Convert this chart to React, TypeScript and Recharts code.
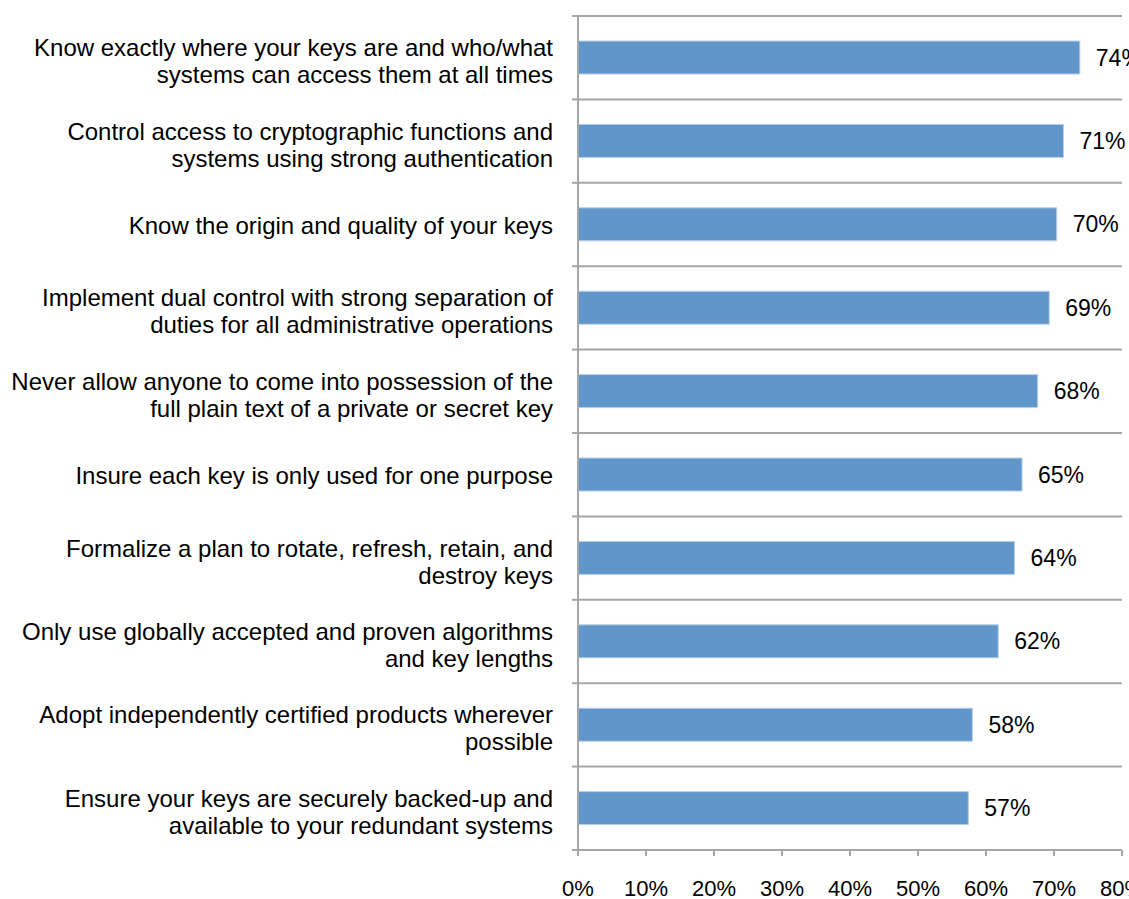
import React from 'react';
import {
  BarChart,
  Bar,
  XAxis,
  YAxis,
  CartesianGrid,
  LabelList,
} from 'recharts';

// practice labels, already broken into lines like the original
const practices: string[] = [
  'Know exactly where your keys are and who/what\nsystems can access them at all times',
  'Control access to cryptographic functions and\nsystems using strong authentication',
  'Know the origin and quality of your keys',
  'Implement dual control with strong separation of\nduties for all administrative operations',
  'Never allow anyone to come into possession of the\nfull plain text of a private or secret key',
  'Insure each key is only used for one purpose',
  'Formalize a plan to rotate, refresh, retain, and\ndestroy keys',
  'Only use globally accepted and proven algorithms\nand key lengths',
  'Adopt independently certified products wherever\npossible',
  'Ensure your keys are securely backed-up and\navailable to your redundant systems',
];

const shares: number[] = [73.8, 71.4, 70.4, 69.3, 67.6, 65.3, 64.2, 61.8, 58.0, 57.4];

const percentTicks: number[] = [0, 10, 20, 30, 40, 50, 60, 70, 80];

const data = practices.map((label, i) => ({ label, value: shares[i] }));

const FONT = '"Liberation Sans", Arial, sans-serif';
const GRAY = '#a6a6a6';
const STUB = 6;

function CategoryTick(props: any) {
  const { x, y, payload, height, visibleTicksCount, index } = props;
  const lines: string[] = String(payload.value).split('\n');
  const lineHeight = 27;
  const first =
    -((lines.length - 1) * lineHeight) / 2 + (lines.length > 1 ? 12 : 9);
  const band = (height ?? 834) / (visibleTicksCount ?? practices.length);
  const axisX = x + 25;
  return (
    <g>
      <line
        x1={axisX - STUB}
        x2={axisX}
        y1={y - band / 2}
        y2={y - band / 2}
        stroke={GRAY}
        strokeWidth={2}
      />
      {index === visibleTicksCount - 1 && (
        <line
          x1={axisX - STUB}
          x2={axisX}
          y1={y + band / 2}
          y2={y + band / 2}
          stroke={GRAY}
          strokeWidth={2}
        />
      )}
      <text
        x={x}
        y={y}
        textAnchor="end"
        fontFamily={FONT}
        fontSize={24}
        fill="#000"
      >
        {lines.map((line, i) => (
          <tspan key={i} x={x} dy={i === 0 ? first : lineHeight}>
            {line}
          </tspan>
        ))}
      </text>
    </g>
  );
}

// separators sit on the category edges, not at band centres
const bandEdges = ({ offset }: any) =>
  Array.from(
    { length: practices.length + 1 },
    (_, i) => offset.top + (i * offset.height) / practices.length,
  );

export default function App() {
  return (
    <div style={{ position: 'absolute', left: 0, top: 0, background: '#fff' }}>
      <BarChart
        width={1129}
        height={899}
        data={data}
        layout="vertical"
        margin={{ top: 16, right: 7, left: 0, bottom: 0 }}
        barCategoryGap="30%"
      >
        <CartesianGrid
          horizontal
          vertical={false}
          horizontalCoordinatesGenerator={bandEdges}
          stroke={GRAY}
          strokeWidth={2}
        />
        <YAxis
          type="category"
          dataKey="label"
          width={578}
          axisLine={{ stroke: GRAY, strokeWidth: 2 }}
          tickLine={false}
          tickSize={0}
          tickMargin={25}
          tick={<CategoryTick />}
          interval={0}
        />
        <XAxis
          type="number"
          domain={[0, 80]}
          ticks={percentTicks}
          tickFormatter={(v: number) => `${v}%`}
          height={49}
          tickSize={6}
          tickMargin={24}
          axisLine={{ stroke: GRAY, strokeWidth: 2 }}
          tickLine={{ stroke: GRAY, strokeWidth: 2 }}
          tick={{ fontFamily: FONT, fontSize: 22, fill: '#000' }}
          interval={0}
        />
        <Bar
          dataKey="value"
          fill="#6096c9"
          stroke="#b8cfe8"
          strokeWidth={1}
          isAnimationActive={false}
        >
          <LabelList
            dataKey="value"
            position="right"
            offset={16}
            formatter={(v: any) => `${Math.round(Number(v))}%`}
            style={{ fontFamily: FONT, fontSize: 23, fill: '#000' }}
          />
        </Bar>
      </BarChart>
    </div>
  );
}
